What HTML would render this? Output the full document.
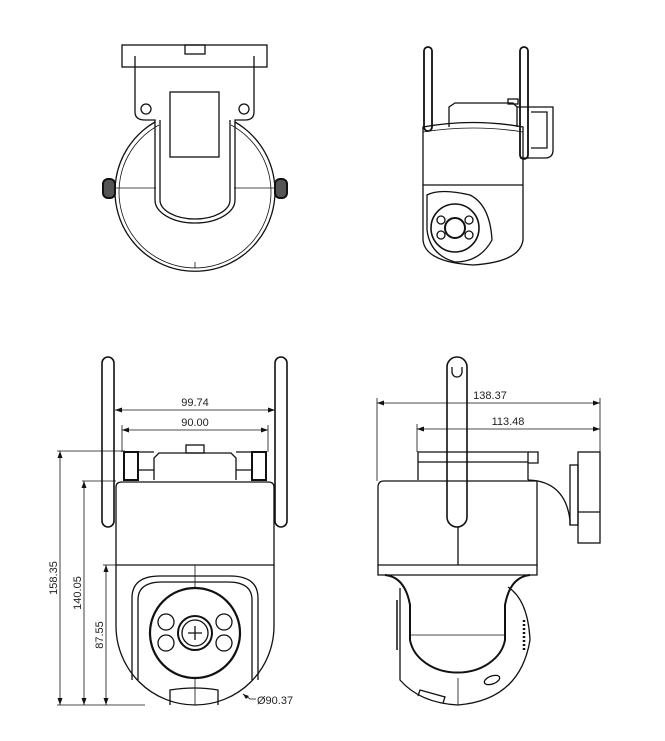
<!DOCTYPE html>
<html><head><meta charset="utf-8"><style>
html,body{margin:0;padding:0;background:#fff;}
svg{display:block;}
text{font-family:"Liberation Sans",sans-serif;font-size:11px;fill:#222;}
</style></head><body>
<svg width="665" height="741" viewBox="0 0 665 741" xmlns="http://www.w3.org/2000/svg">
<g fill="none" stroke="#111" stroke-width="1.3">
<!-- TOP LEFT VIEW -->
<rect x="122" y="45" width="145" height="22"/>
<rect x="185" y="45" width="20" height="9"/>
<path d="M135 56 V112 Q135 120 145 120 H155 V200 A40 23 0 0 0 235 200 V120 H245 Q254 120 254 112 V56"/>
<path d="M160 120 V200 A35 19 0 0 0 230 200 V120"/>
<circle cx="146" cy="109" r="5"/>
<circle cx="244" cy="109" r="5"/>
<rect x="170" y="92" width="49" height="65"/>
<path d="M155 122 A80 80 0 1 0 235 122" />
<path d="M159 125 A76 76 0 1 0 231 125" stroke-width="0.8"/>
<line x1="115" y1="188" x2="156" y2="188" stroke-width="0.8"/>
<line x1="234" y1="188" x2="275" y2="188" stroke-width="0.8"/>
<line x1="195" y1="262" x2="195" y2="268" stroke-width="0.8"/>
<rect x="103" y="179" width="12" height="19" rx="5" stroke-width="2" fill="#555"/>
<rect x="275" y="179" width="12" height="19" rx="5" stroke-width="2" fill="#555"/>

<!-- TOP RIGHT VIEW -->
<rect x="424" y="47" width="8" height="84" rx="4" stroke-width="1.8"/>
<rect x="520" y="47" width="8" height="112" rx="4" stroke-width="1.8"/>
<path d="M449 127 V107 L455 103 H513 L517 107 V127"/>
<rect x="508" y="99" width="10" height="5"/>
<path d="M423 127 Q473 118 523 127 V185 H423 Z"/>
<path d="M423 132 Q473 124 523 132" stroke-width="0.8"/>
<path d="M423 185 V240 Q425 262 473 265 Q520 262 523 240 V185"/>
<path d="M517 107 H553 V150 Q553 158 545 158 H520"/>
<path d="M531 112 H547 V148 H531"/>
<path d="M427 195 Q440 188 470 195 Q490 205 492 240 Q480 262 455 262 Q430 255 427 230 Z"/>
<circle cx="455" cy="228" r="24" stroke-width="1.6"/>
<circle cx="455" cy="228" r="10" stroke-width="2"/>
<circle cx="441" cy="220" r="4"/><circle cx="441" cy="235" r="4"/>
<circle cx="469" cy="220" r="4"/><circle cx="469" cy="235" r="4"/>

<!-- BOTTOM LEFT VIEW -->
<rect x="102" y="357" width="12" height="170" rx="6" stroke-width="1.6"/>
<rect x="275" y="357" width="12" height="170" rx="6" stroke-width="1.6"/>
<rect x="186" y="445" width="18" height="8"/>
<path d="M154 480 V458 L159 453 H231 L236 458 V480"/>
<rect x="124" y="452" width="14" height="28" stroke-width="2"/>
<rect x="252" y="452" width="14" height="28" stroke-width="2"/>
<path d="M138 452 H154 M236 452 H252 M138 470 H154 M236 470 H252"/>
<path d="M116 565 V487 Q116 482 122 482 H268 Q274 482 274 487 V565 Z"/>
<path d="M116 565 V626 A79 79 0 0 0 274 626 V565"/>
<path d="M132 680 V598 Q132 576 160 576 H230 Q258 576 258 598 V680"/>
<path d="M138 680 V600 Q138 582 162 582 H228 Q252 582 252 600 V680"/>
<circle cx="195" cy="633" r="45" stroke-width="2.2"/>
<circle cx="195" cy="633" r="17" stroke-width="2"/>
<circle cx="195" cy="633" r="13"/>
<path d="M188 633 H202 M195 626 V640"/>
<circle cx="166" cy="622" r="8"/><circle cx="166" cy="643" r="8"/>
<circle cx="224" cy="622" r="8"/><circle cx="224" cy="643" r="8"/>
<path d="M170 705 V690 Q195 686 218 690 V705"/>
<line x1="195" y1="565" x2="195" y2="587" stroke-width="0.8"/>
<line x1="195" y1="679" x2="195" y2="705" stroke-width="0.8"/>

<!-- BOTTOM RIGHT VIEW -->
<rect x="447" y="357" width="20" height="170" rx="10" stroke-width="1.6"/>
<path d="M452 367 V372 A5 5 0 0 0 462 372 V367"/>
<path d="M418 480 V452 H528 V480"/>
<path d="M528 452 H538 V463 H528"/>
<path d="M418 462 H528"/>
<path d="M528 480 Q565 481 570 520 V525"/>
<rect x="570" y="465" width="8" height="60"/>
<rect x="578" y="452" width="22" height="91"/>
<path d="M578 512 H600"/>
<path d="M378 565 V487 Q378 481 384 481 H537 V565 Z"/>
<line x1="458" y1="527" x2="458" y2="565"/>
<path d="M378 565 V575 H537 V565"/>
<path d="M385 575 Q405 577 410 605 V640 A48 38 0 0 0 505 640 V605 Q510 577 530 575" stroke-width="2"/>
<path d="M400 588 V680 Q420 703 458 705 Q520 700 530 640 Q528 600 508 587"/>
<line x1="410" y1="635" x2="505" y2="635" stroke-width="0.8"/>
<line x1="458" y1="678" x2="458" y2="705" stroke-width="0.8"/>
<ellipse cx="492" cy="680" rx="8" ry="4" transform="rotate(-20 492 680)"/>
<path d="M418 696 L420 690 L445 697 L443 703"/>
<path d="M524 620 V650" stroke-width="2.5" stroke-dasharray="2 2"/>
<path d="M397 600 V650" stroke-width="1.5"/>
</g>

<!-- DIMENSIONS -->
<g stroke="#111" stroke-width="0.8" fill="none">
<line x1="115" y1="410" x2="275" y2="410"/>
<line x1="122" y1="430" x2="268" y2="430"/>
<line x1="122" y1="425" x2="122" y2="452"/>
<line x1="268" y1="425" x2="268" y2="452"/>
<line x1="57" y1="451" x2="125" y2="451"/>
<line x1="82" y1="481" x2="116" y2="481"/>
<line x1="103" y1="565" x2="116" y2="565"/>
<line x1="57" y1="705" x2="145" y2="705"/>
<line x1="60" y1="451" x2="60" y2="705"/>
<line x1="84" y1="481" x2="84" y2="705"/>
<line x1="106" y1="565" x2="106" y2="705"/>
<line x1="377" y1="403" x2="600" y2="403"/>
<line x1="417" y1="429" x2="600" y2="429"/>
<line x1="377" y1="398" x2="377" y2="481"/>
<line x1="417" y1="424" x2="417" y2="452"/>
<line x1="600" y1="398" x2="600" y2="452"/>
<path d="M243 694 L250 699 H256"/>
</g>
<g fill="#111">
<path d="M115 410 l7 -2.5 v5z M275 410 l-7 -2.5 v5z"/>
<path d="M122 430 l7 -2.5 v5z M268 430 l-7 -2.5 v5z"/>
<path d="M60 451 l-2.5 7 h5z M60 705 l-2.5 -7 h5z"/>
<path d="M84 481 l-2.5 7 h5z M84 705 l-2.5 -7 h5z"/>
<path d="M106 565 l-2.5 7 h5z M106 705 l-2.5 -7 h5z"/>
<path d="M377 403 l7 -2.5 v5z M600 403 l-7 -2.5 v5z"/>
<path d="M417 429 l7 -2.5 v5z M600 429 l-7 -2.5 v5z"/>
<path d="M243 694 l6 2 l-3 3z"/>
</g>
<text x="195" y="406" text-anchor="middle">99.74</text>
<text x="195" y="426" text-anchor="middle">90.00</text>
<text x="490" y="399" text-anchor="middle">138.37</text>
<text x="508" y="425" text-anchor="middle">113.48</text>
<text x="257" y="704">Ø90.37</text>
<text transform="translate(57 578) rotate(-90)" text-anchor="middle">158.35</text>
<text transform="translate(81 593) rotate(-90)" text-anchor="middle">140.05</text>
<text transform="translate(103 635) rotate(-90)" text-anchor="middle">87.55</text>
</svg>
</body></html>
